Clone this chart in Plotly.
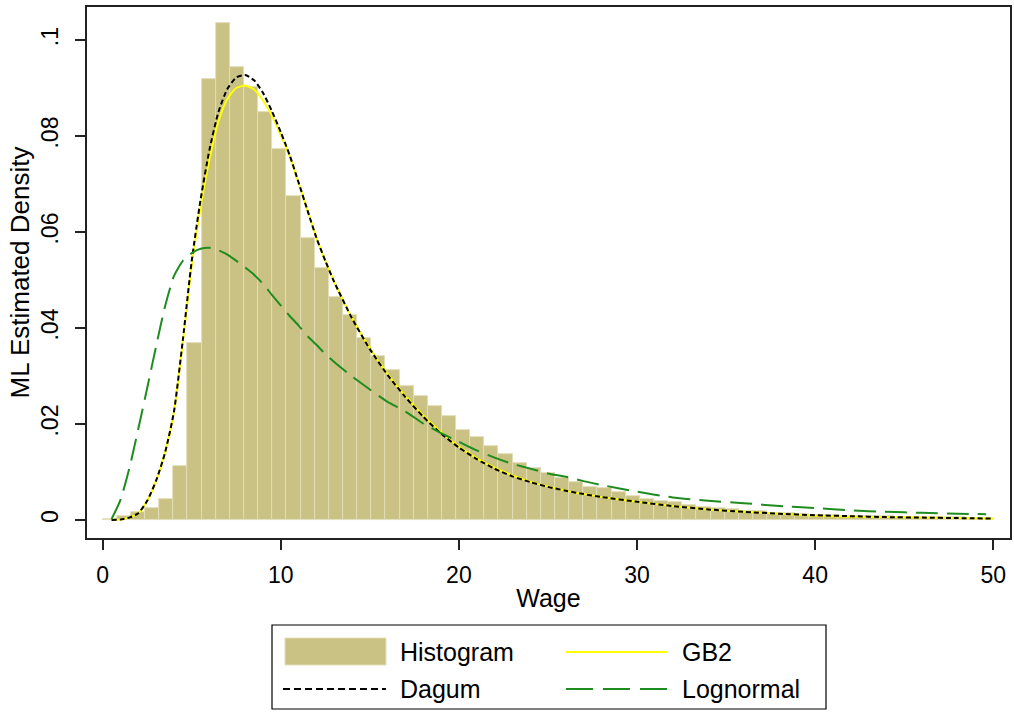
import plotly.graph_objects as go

# ---------------- data ----------------
bin_start = 0.0
bin_width = 50 / 63
hist_density = [
    0.0003, 0.0008, 0.0017, 0.0024, 0.0043, 0.0112, 0.0368, 0.0918, 0.1035, 0.0943,
    0.0903, 0.0851, 0.0772, 0.0676, 0.0588, 0.0526, 0.0464, 0.0427, 0.0380, 0.0342,
    0.0313, 0.0279, 0.0258, 0.0238, 0.0217, 0.0188, 0.0172, 0.0155, 0.0138, 0.0119,
    0.0108, 0.0097, 0.0088, 0.0080, 0.0069, 0.0066, 0.0059, 0.0050, 0.0043, 0.0040,
    0.0037, 0.0032, 0.0028, 0.0024, 0.0022, 0.0019, 0.0018, 0.0015, 0.0014, 0.0013,
    0.0011, 0.0010, 0.0009, 0.0009, 0.0008, 0.0008, 0.0007, 0.0007, 0.0006, 0.0006,
    0.0006, 0.0005, 0.0005,
]

wage = [0.5, 1, 1.5, 2, 2.5, 3, 3.5, 4, 4.5, 5, 5.5, 6, 6.5, 7, 7.5, 8, 8.5, 9, 9.5,
        10, 10.5, 11, 11.5, 12, 12.5, 13, 14, 15, 16, 17, 18, 19, 20, 21, 22, 23, 24,
        25, 26, 27, 28, 30, 32, 34, 36, 38, 40, 42, 44, 46, 48, 50]

dagum = [0.0000, 0.0001, 0.0005, 0.0014, 0.0040, 0.0082, 0.0140, 0.0225, 0.0375, 0.0540,
         0.0668, 0.0772, 0.0850, 0.0898, 0.0922, 0.0927, 0.0916, 0.0890, 0.0852, 0.0808,
         0.0760, 0.0703, 0.0645, 0.0588, 0.0540, 0.0496, 0.0420, 0.0356, 0.0302, 0.0256,
         0.0215, 0.0180, 0.0151, 0.0127, 0.0107, 0.0091, 0.0079, 0.0069, 0.0061, 0.0054,
         0.0048, 0.0038, 0.0029, 0.0022, 0.0017, 0.0013, 0.0010, 0.0008, 0.0006, 0.0005,
         0.0004, 0.0003]

gb2 = [0.0000, 0.0001, 0.0005, 0.0014, 0.0040, 0.0082, 0.0140, 0.0225, 0.0370, 0.0530,
       0.0652, 0.0752, 0.0830, 0.0877, 0.0900, 0.0905, 0.0897, 0.0874, 0.0842, 0.0802,
       0.0757, 0.0702, 0.0645, 0.0588, 0.0540, 0.0496, 0.0421, 0.0358, 0.0304, 0.0258,
       0.0218, 0.0183, 0.0153, 0.0129, 0.0109, 0.0093, 0.0080, 0.0070, 0.0061, 0.0054,
       0.0048, 0.0038, 0.0029, 0.0022, 0.0017, 0.0013, 0.0009, 0.0007, 0.0006, 0.0005,
       0.0004, 0.0003]

lognormal_x = wage[:-1] + [49.6]
lognormal = [0.0002, 0.0042, 0.0108, 0.0190, 0.0275, 0.0362, 0.0445, 0.0508, 0.0540, 0.0556,
             0.0565, 0.0567, 0.0562, 0.0553, 0.0540, 0.0526, 0.0511, 0.0492, 0.0469, 0.0447,
             0.0425, 0.0405, 0.0383, 0.0365, 0.0346, 0.0329, 0.0299, 0.0272, 0.0246, 0.0226,
             0.0201, 0.0181, 0.0163, 0.0145, 0.0130, 0.0117, 0.0107, 0.0097, 0.0090, 0.0081,
             0.0073, 0.0059, 0.0047, 0.0040, 0.0035, 0.0029, 0.0025, 0.0020, 0.0017, 0.0015,
             0.0013, 0.0012]

y_ticks = [0, 0.02, 0.04, 0.06, 0.08, 0.1]
y_tick_text = ["0", ".02", ".04", ".06", ".08", ".1"]
x_ticks = [0, 10, 20, 30, 40, 50]

legend_labels = ["Histogram", "GB2", "Dagum", "Lognormal"]

# ---------------- styles ----------------
KHAKI = "rgb(202,194,132)"
KHAKI_EDGE = "rgb(226,222,186)"
YELLOW = "#FFFF00"
GREEN = "#1E8C1E"
FONT = "Liberation Sans, Arial, sans-serif"

W, H = 1014, 713
L, R, T, B = 87, 1010, 7, 538

centers = [bin_start + bin_width * (i + 0.5) for i in range(len(hist_density))]

fig = go.Figure()
fig.add_trace(go.Bar(x=centers, y=hist_density, width=bin_width,
                     marker=dict(color=KHAKI, line=dict(color=KHAKI_EDGE, width=0.8)),
                     name="Histogram", showlegend=False))
fig.add_trace(go.Scatter(x=wage, y=gb2, mode="lines", name="GB2",
                         line=dict(color=YELLOW, width=2, shape="spline", smoothing=0.6),
                         showlegend=False))
fig.add_trace(go.Scatter(x=wage, y=dagum, mode="lines", name="Dagum",
                         line=dict(color="black", width=2, dash="5px,3px",
                                   shape="spline", smoothing=0.6),
                         showlegend=False))
fig.add_trace(go.Scatter(x=lognormal_x, y=lognormal, mode="lines", name="Lognormal",
                         line=dict(color=GREEN, width=2, dash="22px,9px",
                                   shape="spline", smoothing=0.6),
                         showlegend=False))

# ---- manual legend (drawn in pixel space -> paper) ----
def px(xp):
    return (xp - L) / (R - L)

def py(yp):
    return (B - yp) / (B - T)

shapes = [
    dict(type="rect", xref="paper", yref="paper", x0=px(272), x1=px(826), y0=py(625), y1=py(709),
         line=dict(color="black", width=1.2), fillcolor="white", layer="above"),
    dict(type="rect", xref="paper", yref="paper", x0=px(285), x1=px(386), y0=py(638), y1=py(665),
         line=dict(color=KHAKI_EDGE, width=1), fillcolor=KHAKI, layer="above"),
    dict(type="line", xref="paper", yref="paper", x0=px(566), x1=px(667), y0=py(652), y1=py(652),
         line=dict(color=YELLOW, width=2), layer="above"),
    dict(type="line", xref="paper", yref="paper", x0=px(283), x1=px(386), y0=py(689), y1=py(689),
         line=dict(color="black", width=2, dash="7px,4px"), layer="above"),
    dict(type="line", xref="paper", yref="paper", x0=px(566), x1=px(667), y0=py(689), y1=py(689),
         line=dict(color=GREEN, width=2, dash="27px,10px"), layer="above"),
]
text_pos = [(398, 652), (680, 652), (398, 689), (680, 689)]
annotations = [
    dict(text=t, xref="paper", yref="paper", x=px(xp), y=py(yp), xanchor="left",
         yanchor="middle", showarrow=False, font=dict(family=FONT, size=25, color="black"))
    for t, (xp, yp) in zip(legend_labels, text_pos)
]

fig.update_layout(
    width=W, height=H,
    margin=dict(l=L, r=W - R, t=T, b=H - B, autoexpand=False),
    paper_bgcolor="white", plot_bgcolor="white",
    bargap=0, showlegend=False,
    font=dict(family=FONT, color="black"),
    shapes=shapes, annotations=annotations,
    xaxis=dict(range=[-0.88, 50.94], tickvals=x_ticks, ticks="outside", ticklen=10,
               tickwidth=1.5, tickcolor="#222", showline=True, linecolor="#222",
               linewidth=1.5, mirror=True, showgrid=False, zeroline=False,
               tickfont=dict(size=23), ticklabelstandoff=6,
               title=dict(text="Wage", font=dict(size=25), standoff=2)),
    yaxis=dict(range=[-0.00375, 0.106875], tickvals=y_ticks, ticktext=y_tick_text,
               tickangle=-90, ticks="outside", ticklen=10, tickwidth=1.5, tickcolor="#222",
               showline=True, linecolor="#222", linewidth=1.5, mirror=True,
               showgrid=False, zeroline=False, tickfont=dict(size=23), ticklabelstandoff=8,
               title=dict(text="ML Estimated Density", font=dict(size=26), standoff=0)),
)

fig.write_html("out.html")
